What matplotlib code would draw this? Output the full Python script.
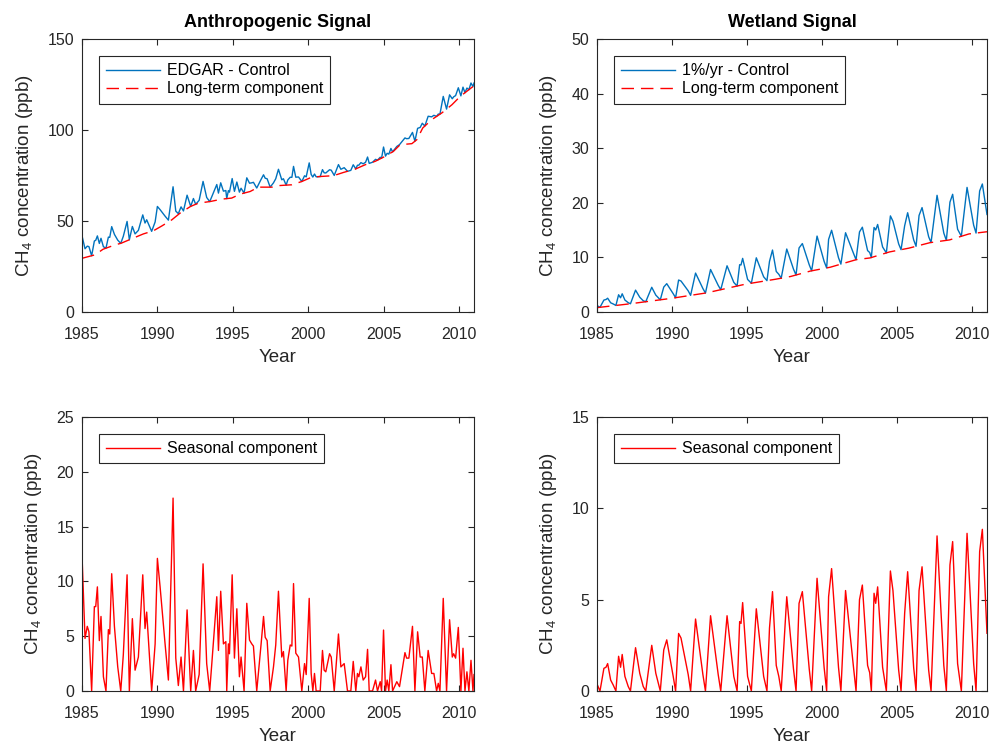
import numpy as np
import matplotlib
matplotlib.use("Agg")
import matplotlib.pyplot as plt

plt.rcParams['font.family'] = ['Liberation Sans', 'DejaVu Sans']
plt.rcParams['mathtext.fontset'] = 'custom'
plt.rcParams['mathtext.rm'] = 'Liberation Sans'
plt.rcParams['mathtext.it'] = 'Liberation Sans:italic'
plt.rcParams['mathtext.bf'] = 'Liberation Sans:bold'
plt.rcParams['mathtext.default'] = 'regular'

AX_COLOR = '#262626'
BLUE = '#0072BD'
RED = '#FF0000'

year_ticks = [1985, 1990, 1995, 2000, 2005, 2010]

# Anthropogenic long-term component (ppb)
anth_trend_t = [1985.0, 1985.86, 1986.4, 1987.2, 1987.6, 1988.4, 1989.07, 1989.73,
                1990.3, 1990.95, 1991.5, 1992.2, 1992.72, 1993.5, 1994.27, 1994.93,
                1995.5, 1996.15, 1996.7, 1997.6, 1998.14, 1998.92, 1999.58, 2000.24,
                2000.9, 2001.68, 2002.35, 2003.12, 2003.78, 2004.45, 2005.1, 2005.66,
                2006.1, 2006.88, 2007.21, 2007.6, 2008.2, 2008.87, 2009.54, 2010.09,
                2011.0]
anth_trend_v = [29.5, 31.4, 34.5, 36.9, 37.8, 40.6, 42.9, 44.6,
                47.3, 50.6, 54.3, 58.0, 59.8, 60.7, 62.0, 62.6,
                64.8, 66.2, 68.6, 68.6, 69.5, 69.9, 71.7, 74.1,
                74.5, 74.9, 76.7, 78.5, 80.9, 82.8, 85.5, 88.3,
                91.9, 92.5, 94.7, 101.1, 105.7, 109.4, 113.9, 118.5,
                124.3]

# Anthropogenic seasonal component (ppb)
anth_seas_t = [1985.00, 1985.20, 1985.35, 1985.46, 1985.64, 1985.82, 1985.91, 1986.02,
               1986.15, 1986.26, 1986.42, 1986.59, 1986.75, 1986.84, 1986.97, 1987.15,
               1987.37, 1987.57, 1987.74, 1987.99, 1988.14, 1988.34, 1988.52, 1988.74,
               1989.03, 1989.18, 1989.29, 1989.62, 1989.85, 1990.00, 1990.18, 1990.51,
               1990.73, 1991.04, 1991.22, 1991.39, 1991.57, 1991.73, 1991.97, 1992.21,
               1992.39, 1992.54, 1992.77, 1993.03, 1993.27, 1993.47, 1993.61, 1993.94,
               1994.05, 1994.20, 1994.38, 1994.54, 1994.60, 1994.71, 1994.78, 1994.96,
               1995.11, 1995.27, 1995.44, 1995.55, 1995.75, 1995.93, 1996.11, 1996.26,
               1996.37, 1996.59, 1996.88, 1997.04, 1997.15, 1997.28, 1997.48, 1997.70,
               1997.85, 1998.03, 1998.25, 1998.36, 1998.54, 1998.65, 1998.81, 1998.92,
               1999.03, 1999.18, 1999.36, 1999.58, 1999.76, 1999.87, 2000.07, 2000.20,
               2000.31, 2000.42, 2000.53, 2000.80, 2000.95, 2001.06, 2001.17, 2001.42,
               2001.53, 2001.73, 2002.01, 2002.17, 2002.39, 2002.61, 2002.83, 2002.99,
               2003.16, 2003.27, 2003.36, 2003.50, 2003.65, 2003.81, 2003.94, 2004.05,
               2004.27, 2004.47, 2004.60, 2004.78, 2004.87, 2005.00, 2005.13, 2005.24,
               2005.35, 2005.49, 2005.60, 2005.88, 2006.06, 2006.42, 2006.53, 2006.68,
               2006.92, 2007.08, 2007.26, 2007.43, 2007.57, 2007.74, 2007.96, 2008.19,
               2008.34, 2008.52, 2008.63, 2008.74, 2008.96, 2009.18, 2009.38, 2009.56,
               2009.65, 2009.78, 2009.96, 2010.13, 2010.27, 2010.40, 2010.53, 2010.66,
               2010.80, 2010.93, 2011.00]
anth_seas_v = [12.4, 4.8, 5.9, 5.4, 0.0, 7.7, 7.7, 9.5,
               4.6, 6.8, 1.3, 0.0, 5.6, 5.2, 10.7, 5.9,
               2.2, 0.0, 3.3, 10.6, 0.0, 6.6, 1.9, 3.1,
               10.6, 5.7, 7.2, 0.0, 4.3, 12.1, 9.5, 4.3,
               1.0, 17.6, 3.0, 0.5, 3.1, 0.0, 7.4, 0.0,
               3.7, 0.0, 1.5, 11.6, 2.5, 0.0, 2.5, 8.6,
               3.7, 9.1, 4.3, 4.5, 0.0, 4.3, 3.4, 10.6,
               3.0, 7.5, 1.3, 3.1, 0.0, 8.0, 4.65, 4.3,
               4.1, 0.0, 4.3, 6.8, 4.9, 4.6, 0.0, 2.2,
               4.2, 9.1, 3.1, 3.6, 0.0, 2.8, 4.2, 4.1,
               9.8, 3.45, 3.1, 0.0, 2.5, 1.5, 8.45, 1.6,
               0.0, 1.6, 0.0, 0.0, 3.7, 1.9, 1.75, 3.4,
               3.1, 0.0, 5.2, 2.2, 2.5, 0.0, 0.0, 2.7,
               0.0, 1.6, 1.3, 2.2, 1.0, 1.3, 3.8, 0.0,
               0.0, 1.0, 0.0, 0.85, 0.0, 5.56, 0.0, 1.0,
               0.0, 2.4, 0.0, 0.85, 0.4, 3.5, 3.0, 3.0,
               5.9, 0.0, 5.4, 3.1, 3.1, 0.0, 3.7, 1.6,
               1.6, 0.0, 0.7, 0.0, 8.45, 0.0, 6.5, 3.1,
               3.4, 3.0, 5.8, 0.0, 3.9, 0.0, 1.75, 0.0,
               2.8, 0.0, 1.5]

# Wetland long-term component (ppb)
wet_trend_t = [1985.0, 1987.2, 1989.96, 1992.3, 1994.9, 1996.9, 1997.9, 1999.23,
               2000.55, 2002.3, 2003.2, 2004.5, 2005.8, 2007.2, 2008.5, 2009.8, 2011.0]
wet_trend_v = [0.8, 1.5, 2.5, 3.5, 5.1, 6.0, 6.5, 7.5,
               8.2, 9.6, 9.9, 11.0, 11.7, 12.7, 13.2, 14.3, 14.7]

# Wetland seasonal component (ppb)
wet_seas_t = [1985.00, 1985.20, 1985.46, 1985.60, 1985.71, 1985.91, 1986.08, 1986.26,
              1986.44, 1986.57, 1986.68, 1986.86, 1987.08, 1987.23, 1987.57, 1987.85,
              1988.08, 1988.25, 1988.65, 1988.92, 1989.22, 1989.45, 1989.65, 1990.08,
              1990.24, 1990.44, 1990.60, 1991.08, 1991.24, 1991.57, 1992.06, 1992.23,
              1992.57, 1993.08, 1993.25, 1993.67, 1994.12, 1994.34, 1994.51, 1994.60,
              1994.71, 1995.04, 1995.29, 1995.62, 1996.11, 1996.33, 1996.50, 1996.70,
              1996.95, 1997.12, 1997.28, 1997.65, 1998.10, 1998.27, 1998.47, 1998.69,
              1999.15, 1999.31, 1999.67, 2000.14, 2000.31, 2000.44, 2000.64, 2001.10,
              2001.26, 2001.57, 2002.10, 2002.27, 2002.50, 2002.69, 2003.04, 2003.18,
              2003.29, 2003.47, 2003.58, 2003.71, 2004.04, 2004.29, 2004.56, 2004.73,
              2005.11, 2005.27, 2005.51, 2005.71, 2006.11, 2006.27, 2006.47, 2006.67,
              2007.11, 2007.27, 2007.67, 2008.12, 2008.29, 2008.53, 2008.71, 2009.04,
              2009.29, 2009.67, 2010.11, 2010.27, 2010.51, 2010.69, 2011.00]
wet_seas_v = [0.38, 0.0, 1.24, 1.3, 1.5, 0.6, 0.33, 0.0,
              1.9, 1.3, 2.0, 0.8, 0.25, 0.0, 2.37, 0.97,
              0.25, 0.0, 2.5, 0.97, 0.0, 2.25, 2.8, 0.8,
              0.0, 3.15, 2.9, 0.9, 0.0, 3.94, 0.9, 0.0,
              4.12, 0.9, 0.0, 4.12, 0.8, 0.0, 3.8, 3.7,
              4.84, 0.8, 0.0, 4.5, 0.8, 0.0, 3.45, 5.44,
              1.4, 0.8, 0.0, 5.16, 1.2, 0.0, 4.8, 5.44,
              1.2, 0.0, 6.17, 1.3, 0.0, 5.16, 6.7, 1.3,
              0.0, 5.5, 1.3, 0.0, 5.0, 5.8, 1.4, 1.0,
              0.0, 5.35, 4.8, 5.7, 1.3, 0.0, 6.57, 5.5,
              1.15, 0.0, 4.25, 6.53, 1.3, 0.0, 5.5, 6.8,
              1.15, 0.0, 8.49, 1.4, 0.0, 6.9, 8.18, 1.5,
              0.0, 8.63, 1.5, 0.0, 7.63, 8.85, 3.16]

# Full signal = long-term + seasonal, evaluated on the seasonal sample times
anth_total = np.interp(anth_seas_t, anth_trend_t, anth_trend_v) + np.array(anth_seas_v)
wet_total = np.interp(wet_seas_t, wet_trend_t, wet_trend_v) + np.array(wet_seas_v)

W, H = 992, 745
fig = plt.figure(figsize=(W / 100, H / 100), dpi=100)

ax_tl = fig.add_axes([82 / W, 1 - 312 / H, 392 / W, 273 / H])
ax_tr = fig.add_axes([597 / W, 1 - 312 / H, 390 / W, 273 / H])
ax_bl = fig.add_axes([82 / W, 1 - 691 / H, 392 / W, 274 / H])
ax_br = fig.add_axes([597 / W, 1 - 691 / H, 390 / W, 274 / H])

DASH = (0, (9, 5))


def style(ax, ymax, yticks):
    ax.set_xlim(1985, 2011)
    ax.set_ylim(0, ymax)
    ax.set_xticks(year_ticks)
    ax.set_yticks(yticks)
    ax.tick_params(direction='in', top=True, right=True, length=4, width=0.8,
                   colors=AX_COLOR, labelsize=11.5)
    ax.tick_params(axis='x', pad=10.5)
    ax.tick_params(axis='y', pad=5.5)
    for s in ax.spines.values():
        s.set_color(AX_COLOR)
        s.set_linewidth(0.8)
    ax.set_xlabel('Year', fontsize=13.5, color=AX_COLOR, labelpad=5)
    ax.set_ylabel('CH$_4$ concentration (ppb)', fontsize=13.5, color=AX_COLOR,
                  labelpad=9)


def legend(ax):
    leg = ax.legend(loc='upper left', bbox_to_anchor=(17 / 392, 1 - 17 / 273),
                    borderaxespad=0, fontsize=11.5, handlelength=3.4,
                    handletextpad=0.4, borderpad=0.45, labelspacing=0.2,
                    fancybox=False, framealpha=1, edgecolor=AX_COLOR)
    leg.get_frame().set_linewidth(0.8)
    for t in leg.get_texts():
        t.set_color('black')


# Anthropogenic signal
ax_tl.plot(anth_seas_t, anth_total, color=BLUE, lw=1.0, label='EDGAR - Control')
ax_tl.plot(anth_trend_t, anth_trend_v, color=RED, lw=1.0, linestyle=DASH,
           label='Long-term component')
style(ax_tl, 150, [0, 50, 100, 150])
ax_tl.set_title('Anthropogenic Signal', fontsize=13, fontweight='bold', pad=8.5)
legend(ax_tl)

# Wetland signal
ax_tr.plot(wet_seas_t, wet_total, color=BLUE, lw=1.0, label='1%/yr - Control')
ax_tr.plot(wet_trend_t, wet_trend_v, color=RED, lw=1.0, linestyle=DASH,
           label='Long-term component')
style(ax_tr, 50, [0, 10, 20, 30, 40, 50])
ax_tr.set_title('Wetland Signal', fontsize=13, fontweight='bold', pad=8.5)
legend(ax_tr)

# Seasonal components
ax_bl.plot(anth_seas_t, anth_seas_v, color=RED, lw=1.0, label='Seasonal component')
style(ax_bl, 25, [0, 5, 10, 15, 20, 25])
legend(ax_bl)

ax_br.plot(wet_seas_t, wet_seas_v, color=RED, lw=1.0, label='Seasonal component')
style(ax_br, 15, [0, 5, 10, 15])
legend(ax_br)

fig.savefig('out.png', dpi=100)
